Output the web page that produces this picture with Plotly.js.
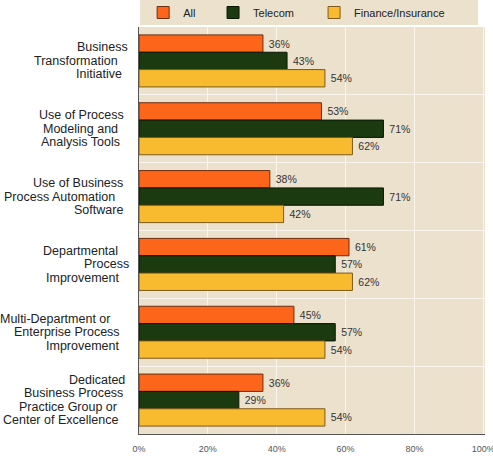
<!DOCTYPE html>
<html>
<head>
<meta charset="utf-8">
<script src="https://cdn.plot.ly/plotly-3.0.1.min.js"></script>
<style>
  html, body { margin: 0; padding: 0; background: #ffffff; }
  #chart { width: 493px; height: 471px; }
</style>
</head>
<body>
<div id="chart"></div>
<script>
// Initiatives, one per row (lines of each label split on "|")
const categories = [
  'Business|Transformation|Initiative',
  'Use of Process|Modeling and|Analysis Tools',
  'Use of Business|Process Automation|Software',
  'Departmental|Process|Improvement',
  'Multi-Department or|Enterprise Process|Improvement',
  'Dedicated|Business Process|Practice Group or|Center of Excellence'
];

// Share of respondents (%) per segment
const allValues      = [36, 53, 38, 61, 45, 36];
const telecomValues  = [43, 71, 71, 57, 57, 29];
const financeValues  = [54, 62, 42, 62, 54, 54];

const seriesNames = ['All', 'Telecom', 'Finance/Insurance'];

const xTickVals = [0, 20, 40, 60, 80, 100];
const xTickText = ['0%', '20%', '40%', '60%', '80%', '100%'];

// ---- styling ----
const FONT = 'Liberation Sans, Arial, sans-serif';
const TAN = '#ECE1CD';
const GRID = '#FAF6EF';
const palette = {
  fill:    ['#FD651A', '#1B3A10', '#F8BB2F'],
  outline: ['#6A2E10', '#0A1605', '#7C5A1A']
};

// Offset (px, relative to the axis line) of the right end of each label line
const lineRight = [
  [-11, -21, -17],
  [-15, -21, -19],
  [-16, -24, -16],
  [-21, -10, -20],
  [-29, -19, -20],
  [-14, -16, -22, -21]
];
const LINE_STEP = 13.5;

// Legend placement (paper x of each entry) and its vertical centre
const legendX = [0.012, 0.214, 0.506];
const LEGEND_Y = 1.0356;

const seriesValues = [allValues, telecomValues, financeValues];
const legendIds = ['legend', 'legend2', 'legend3'];

const traces = seriesValues.map((vals, k) => ({
  type: 'bar',
  orientation: 'h',
  name: seriesNames[k],
  legend: legendIds[k],
  x: vals,
  y: categories,
  marker: { color: palette.fill[k], line: { color: palette.outline[k], width: 1 } },
  text: vals.map(v => '\u00a0' + v + '%'),
  textposition: 'outside',
  textfont: { family: FONT, size: 10.5, color: '#333333' },
  cliponaxis: false,
  hoverinfo: 'skip'
}));

// Category labels: one annotation per line so spacing and alignment can be set
const labelAnnotations = [];
categories.forEach((cat, i) => {
  const lines = cat.split('|');
  const mid = (lines.length - 1) / 2;
  lines.forEach((line, j) => {
    labelAnnotations.push({
      xref: 'paper', yref: 'y',
      x: 0, y: cat,
      xanchor: 'right', yanchor: 'middle',
      xshift: lineRight[i][j],
      yshift: -(j - mid) * LINE_STEP,
      text: line,
      showarrow: false,
      borderpad: 0, borderwidth: 0,
      font: { family: FONT, size: 12.5, color: '#222222' }
    });
  });
});

const legendStyle = (x) => ({
  orientation: 'h',
  x: x, xanchor: 'left',
  y: LEGEND_Y, yanchor: 'middle',
  bgcolor: 'rgba(0,0,0,0)',
  borderwidth: 0,
  font: { family: FONT, size: 11, color: '#222222' },
  itemwidth: 30
});

const layout = {
  width: 493,
  height: 471,
  margin: { l: 139, r: 8, t: 27, b: 37, autoexpand: false },
  paper_bgcolor: '#ffffff',
  plot_bgcolor: TAN,
  barmode: 'group',
  bargap: 0.233,
  bargroupgap: 0,
  font: { family: FONT, color: '#222222' },
  showlegend: true,
  legend: legendStyle(legendX[0]),
  legend2: legendStyle(legendX[1]),
  legend3: legendStyle(legendX[2]),
  xaxis: {
    range: [0, 100.5],
    tickvals: xTickVals,
    ticktext: xTickText,
    tickfont: { family: FONT, size: 9, color: '#555555' },
    ticklabeloverflow: 'allow',
    showgrid: true,
    gridcolor: GRID,
    gridwidth: 1,
    zeroline: false,
    showline: true,
    linecolor: '#555555',
    linewidth: 1,
    ticks: '',
    ticklabelstandoff: 6,
    fixedrange: true
  },
  yaxis: {
    type: 'category',
    autorange: 'reversed',
    tickson: 'boundaries',
    showgrid: true,
    gridcolor: GRID,
    gridwidth: 1,
    showline: true,
    linecolor: '#555555',
    linewidth: 1,
    ticks: '',
    showticklabels: false,
    fixedrange: true
  },
  annotations: labelAnnotations,
  shapes: [{
    type: 'rect', xref: 'paper', yref: 'paper', layer: 'below',
    x0: 0.003, x1: 0.98, y0: 1.005, y1: 1.07,
    fillcolor: TAN, line: { width: 0 }
  }]
};

Plotly.newPlot('chart', traces, layout, { displayModeBar: false, staticPlot: true });
</script>
</body>
</html>
